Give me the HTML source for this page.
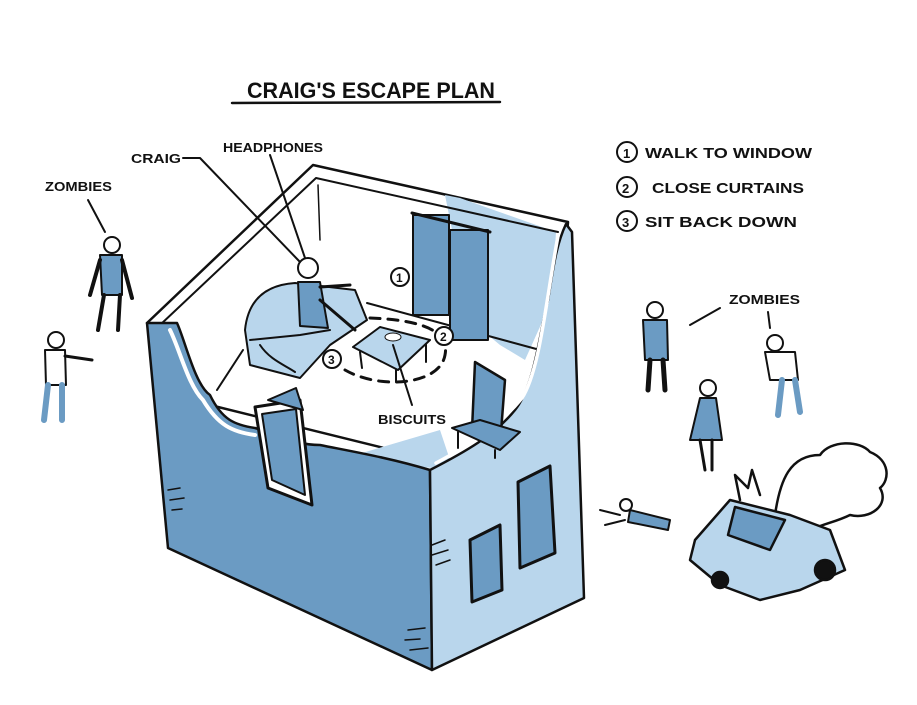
<!DOCTYPE html>
<html><head><meta charset="utf-8"><style>
html,body{margin:0;padding:0;background:#fff;}
svg{display:block;}
text{font-family:"Liberation Sans",sans-serif;font-weight:bold;fill:#111;}
</style></head><body>
<svg width="917" height="705" viewBox="0 0 917 705" xmlns="http://www.w3.org/2000/svg" stroke-linejoin="round" stroke-linecap="round">
<rect width="917" height="705" fill="#fff"/>
<text x="247" y="98" font-size="22" textLength="248" lengthAdjust="spacingAndGlyphs">CRAIG'S ESCAPE PLAN</text>
<path d="M232 103 L500 102" stroke="#111" stroke-width="2.5" fill="none"/>
<g font-size="15">
<circle cx="627" cy="152" r="10" fill="none" stroke="#111" stroke-width="2"/><text x="623" y="158" font-size="13">1</text>
<text x="645" y="158" textLength="167" lengthAdjust="spacingAndGlyphs">WALK TO WINDOW</text>
<circle cx="627" cy="187" r="10" fill="none" stroke="#111" stroke-width="2"/><text x="622" y="193" font-size="13">2</text>
<text x="652" y="193" textLength="152" lengthAdjust="spacingAndGlyphs">CLOSE CURTAINS</text>
<circle cx="627" cy="221" r="10" fill="none" stroke="#111" stroke-width="2"/><text x="622" y="227" font-size="13">3</text>
<text x="645" y="227" textLength="152" lengthAdjust="spacingAndGlyphs">SIT BACK DOWN</text>
</g>
<!-- room interior -->
<polygon points="147,323 313,165 568,222 555,380 473,470 210,405" fill="#fff" stroke="#111" stroke-width="2.5"/>
<polygon points="445,195 460,198 556,232 552,300 525,360 500,345 470,320" fill="#b9d6ec"/>
<path d="M318 185 L320 240" stroke="#111" stroke-width="1.5" fill="none"/>
<path d="M243 350 L217 390 M367 303 L540 350" stroke="#111" stroke-width="2" fill="none"/>
<path d="M160 325 L316 178 L558 232" stroke="#111" stroke-width="2" fill="none"/>
<polygon points="345,458 440,430 450,460 432,468" fill="#b9d6ec"/>
<!-- left front wall -->
<path d="M147 323 L177 323 C185 340 195 385 210 395 C222 420 235 425 255 428 C280 435 295 445 320 445 C355 452 390 458 430 470 L432 670 L168 548 Z" fill="#6b9bc3" stroke="#111" stroke-width="2.5"/>
<path d="M170 330 C180 350 188 385 203 400 C218 425 232 432 255 435" fill="none" stroke="#fff" stroke-width="4"/>
<!-- right front wall -->
<path d="M430 470 C465 452 495 435 515 410 C535 385 540 330 548 300 C553 270 556 245 566 224 L572 232 L584 598 L432 670 Z" fill="#b9d6ec" stroke="#111" stroke-width="2.5"/>
<path d="M436 463 C470 445 500 425 522 398 C540 370 546 300 558 236" fill="none" stroke="#fff" stroke-width="3.5"/>
<!-- left door -->
<polygon points="255,407 300,400 312,505 268,488" fill="#fff" stroke="#111" stroke-width="3"/>
<polygon points="262,414 296,409 305,495 272,480" fill="#6b9bc3" stroke="#111" stroke-width="2"/>
<polygon points="268,400 296,388 303,410" fill="#6b9bc3" stroke="#111" stroke-width="2"/>
<!-- right door & window -->
<polygon points="518,482 550,466 555,553 520,568" fill="#6b9bc3" stroke="#111" stroke-width="3"/>
<polygon points="470,540 500,525 502,590 472,602" fill="#6b9bc3" stroke="#111" stroke-width="3"/>
<!-- curtains -->
<rect x="413" y="215" width="36" height="100" fill="#6b9bc3" stroke="#111" stroke-width="2"/>
<rect x="450" y="230" width="38" height="110" fill="#6b9bc3" stroke="#111" stroke-width="2"/>
<path d="M412 213 L490 232" stroke="#111" stroke-width="3"/>
<!-- sofa -->
<path d="M245 330 C248 300 265 285 295 283 L355 290 L367 320 L330 345 L300 378 L250 365 Z" fill="#b9d6ec" stroke="#111" stroke-width="2"/>
<path d="M250 340 L300 335 L330 330 M260 345 C270 360 285 365 295 372" fill="none" stroke="#111" stroke-width="2"/>
<!-- craig -->
<circle cx="308" cy="268" r="10" fill="#fff" stroke="#111" stroke-width="2"/>
<path d="M298 282 L320 282 L328 328 L300 326 Z" fill="#6b9bc3" stroke="#111" stroke-width="2"/>
<path d="M320 300 L355 330 M320 287 L350 285" stroke="#111" stroke-width="3" fill="none"/>
<!-- table -->
<polygon points="353,347 380,327 430,340 398,370" fill="#b9d6ec" stroke="#111" stroke-width="2"/>
<path d="M360 352 L362 368 M396 370 L396 382 M426 344 L426 362" stroke="#111" stroke-width="2"/>
<ellipse cx="393" cy="337" rx="8" ry="4" fill="#fff" stroke="#111"/>
<path d="M370 318 C420 320 450 330 445 355 C440 385 380 390 345 370" fill="none" stroke="#111" stroke-width="3" stroke-dasharray="10 8"/>
<!-- TV -->
<polygon points="475,362 505,380 500,445 472,430" fill="#6b9bc3" stroke="#111" stroke-width="2.5"/>
<polygon points="452,428 500,450 520,432 480,420" fill="#6b9bc3" stroke="#111" stroke-width="2"/>
<path d="M458 432 L458 448 M495 450 L495 458" stroke="#111" stroke-width="2"/>
<g font-size="12"><circle cx="400" cy="277" r="9" fill="#fff" stroke="#111" stroke-width="2"/><text x="396" y="282">1</text>
<circle cx="444" cy="336" r="9" fill="#fff" stroke="#111" stroke-width="2"/><text x="440" y="341">2</text>
<circle cx="332" cy="359" r="9" fill="#fff" stroke="#111" stroke-width="2"/><text x="328" y="364">3</text></g>
<g font-size="13">
<text x="45" y="191" textLength="67" lengthAdjust="spacingAndGlyphs">ZOMBIES</text>
<text x="131" y="163" textLength="50" lengthAdjust="spacingAndGlyphs">CRAIG</text>
<text x="223" y="152" textLength="100" lengthAdjust="spacingAndGlyphs">HEADPHONES</text>
<text x="378" y="424" textLength="68" lengthAdjust="spacingAndGlyphs">BISCUITS</text>
<text x="729" y="304" textLength="71" lengthAdjust="spacingAndGlyphs">ZOMBIES</text>
</g>
<path d="M183 158 L200 158 L300 262" stroke="#111" stroke-width="2" fill="none"/>
<path d="M270 155 L305 258" stroke="#111" stroke-width="2" fill="none"/>
<path d="M88 200 L105 232" stroke="#111" stroke-width="2"/>
<path d="M412 405 L393 345" stroke="#111" stroke-width="2"/>
<path d="M720 308 L690 325 M768 312 L770 328" stroke="#111" stroke-width="2"/>
<g stroke="#111" stroke-width="2">
<circle cx="112" cy="245" r="8" fill="#fff"/><path d="M100 255 L122 255 L122 295 L102 295 Z" fill="#6b9bc3"/><path d="M104 295 L98 330 M120 295 L118 330 M100 260 L90 295 M122 260 L132 298" fill="none" stroke-width="4"/>
<circle cx="56" cy="340" r="8" fill="#fff"/><path d="M45 350 L65 350 L66 385 L46 385 Z" fill="#fff"/><path d="M48 385 L44 420 M62 385 L62 420" stroke="#6b9bc3" stroke-width="6"/><path d="M65 356 L92 360" fill="none" stroke-width="3"/>
<circle cx="655" cy="310" r="8" fill="#fff"/><path d="M643 320 L667 320 L668 360 L645 360 Z" fill="#6b9bc3"/><path d="M650 360 L648 390 M663 360 L665 390" stroke-width="5"/>
<circle cx="708" cy="388" r="8" fill="#fff"/><path d="M700 398 L716 398 L722 440 L690 440 Z" fill="#6b9bc3"/><path d="M700 440 L705 470 M712 440 L712 470" stroke-width="3"/>
<circle cx="775" cy="343" r="8" fill="#fff"/><path d="M765 352 L795 352 L798 380 L770 380 Z" fill="#fff"/><path d="M782 380 L778 415 M795 380 L800 412" stroke="#6b9bc3" stroke-width="6"/>
<circle cx="626" cy="505" r="6" fill="#fff"/><path d="M630 510 L670 520 L668 530 L628 522 Z" fill="#6b9bc3"/><path d="M600 510 L620 515 M605 525 L625 520" fill="none"/>
</g>
<g stroke="#111" stroke-width="2.5">
<path d="M775 515 C780 480 790 455 820 455 C830 440 860 440 870 452 C890 460 890 480 880 488 C890 505 870 520 850 515 C830 525 810 525 800 540 Z" fill="#fff"/>
<path d="M695 540 L730 500 L790 515 L830 530 L845 570 L800 590 L760 600 L720 585 L690 560 Z" fill="#b9d6ec"/>
<path d="M735 507 L785 520 L770 550 L728 535 Z" fill="#6b9bc3"/>
<circle cx="825" cy="570" r="10" fill="#111"/><circle cx="720" cy="580" r="8" fill="#111"/>
<path d="M740 500 L735 475 L748 488 L752 470 L760 495" fill="#fff"/>
</g>
<g stroke="#111" stroke-width="1.5" fill="none">
<path d="M168 490 L180 488 M170 500 L184 498 M172 510 L182 509"/>
<path d="M408 630 L425 628 M405 640 L420 639 M410 650 L428 648"/>
<path d="M432 545 L445 540 M432 555 L448 550 M436 565 L450 560"/>
</g>
</svg>
</body></html>
